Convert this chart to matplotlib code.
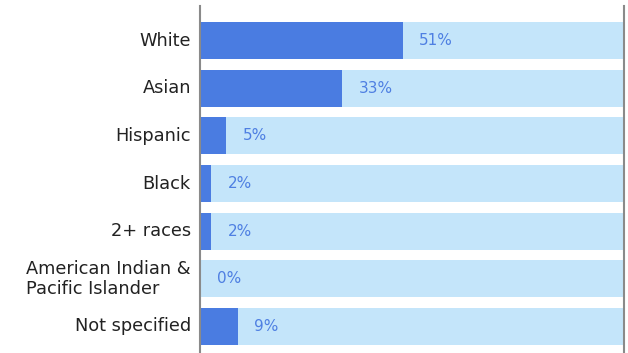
import matplotlib
matplotlib.use("Agg")
import matplotlib.pyplot as plt

categories = ["White", "Asian", "Hispanic", "Black", "2+ races",
              "American Indian &\nPacific Islander", "Not specified"]
bar_length = [47.8, 33.5, 6.1, 2.6, 2.6, 0.0, 8.9]
label_pct = [51, 33, 5, 2, 2, 0, 9]
full_scale = [100] * len(categories)

DARK = "#4a7ce1"
LIGHT = "#c4e5fa"
TEXT_BLUE = "#4e7fe2"

fig = plt.figure(figsize=(6.28, 3.53), dpi=100)
ax = fig.add_axes([200 / 628, 0, 424 / 628, 1 - 6 / 353])

y = list(range(len(categories)))
ax.barh(y, full_scale, height=0.776, color=LIGHT, zorder=1)
ax.barh(y, bar_length, height=0.776, color=DARK, zorder=2)

for yi, bl, lp in zip(y, bar_length, label_pct):
    ax.annotate(f"{lp}%", xy=(bl, yi), xytext=(12, 0), textcoords="offset points",
                va="center", ha="left", fontsize=11, color=TEXT_BLUE, zorder=3)

ax.set_xlim(0, 100)
ax.set_ylim(6.556, -0.724)
ax.set_yticks(y)
ax.set_yticklabels(categories, fontsize=12.8, color="#222222", linespacing=1.1)
ax.tick_params(axis="y", length=0, pad=6.5)
ax.set_xticks([])
for s in ["top", "bottom"]:
    ax.spines[s].set_visible(False)
for s in ["left", "right"]:
    ax.spines[s].set_color("#8a8a8a")
    ax.spines[s].set_linewidth(1.5)
    ax.spines[s].set_zorder(5)
for lbl in ax.get_yticklabels():
    lbl.set_ha("right")
    lbl.set_va("center")
    lbl.set_multialignment("left")

fig.savefig("out.png", dpi=100)
